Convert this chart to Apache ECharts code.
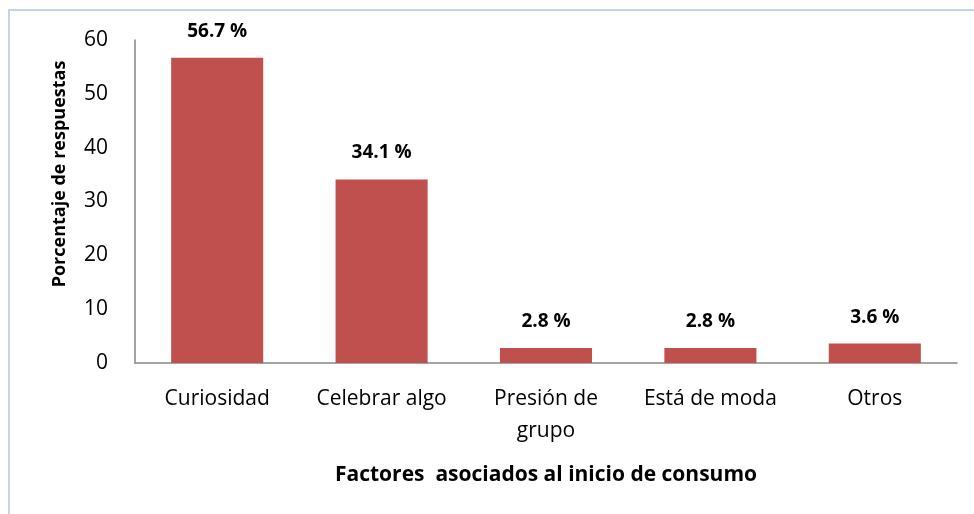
<!DOCTYPE html>
<html>
<head>
<meta charset="utf-8">
<script src="https://cdn.jsdelivr.net/npm/echarts@6/dist/echarts.min.js"></script>
<style>
  html, body { margin: 0; padding: 0; background: #fff; }
  #chart { width: 974px; height: 514px; }
</style>
</head>
<body>
<div id="chart"></div>
<script>
// data
const categories = ["Curiosidad", "Celebrar algo", "Presión de\ngrupo", "Está de moda", "Otros"];
const percentages = [56.7, 34.1, 2.8, 2.8, 3.6];
const yTicks = { min: 0, max: 60, interval: 10 };

const fontFamily = "'Open Sans', sans-serif";
const axisGray = "#868686";

const chart = echarts.init(document.getElementById("chart"));
chart.setOption({
    animation: false,
    textStyle: { fontFamily: fontFamily },
    grid: { left: 135, right: 17, top: 40, bottom: 151, containLabel: false },
    graphic: [
        {
            type: "rect",
            shape: { x: 9, y: 10, width: 1000, height: 600 },
            style: { fill: "none", stroke: "#C3D3E9", lineWidth: 2 }
        },
        {
            type: "text",
            x: 60,
            y: 174,
            rotation: Math.PI / 2,
            style: {
                text: "Porcentaje de respuestas",
                font: "bold 18px " + fontFamily,
                fill: "#000",
                textAlign: "center",
                textVerticalAlign: "middle"
            }
        }
    ],
    xAxis: {
        type: "category",
        data: categories,
        name: "Factores  asociados al inicio de consumo",
        nameLocation: "middle",
        nameGap: 102,
        nameTextStyle: { fontSize: 21, fontWeight: "bold", color: "#000" },
        axisLine: { lineStyle: { color: axisGray, width: 1.5 } },
        axisTick: { show: false },
        axisLabel: { fontSize: 21, color: "#000", margin: 20, lineHeight: 32, interval: 0 }
    },
    yAxis: {
        type: "value",
        min: yTicks.min,
        max: yTicks.max,
        interval: yTicks.interval,
        axisLine: { show: true, lineStyle: { color: axisGray, width: 1.5 } },
        axisTick: { show: false },
        splitLine: { show: false },
        axisLabel: { fontSize: 21, color: "#000", margin: 27 }
    },
    series: [{
        type: "bar",
        data: percentages,
        barWidth: "56%",
        itemStyle: { color: "#C0504D" },
        label: {
            show: true,
            position: "top",
            distance: 17,
            fontSize: 19,
            fontWeight: "bold",
            color: "#000",
            formatter: p => p.value + " %"
        }
    }]
});
</script>
</body>
</html>
